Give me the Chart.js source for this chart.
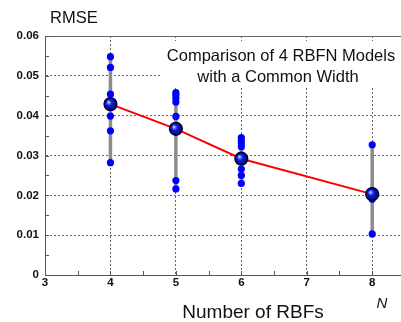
<!DOCTYPE html>
<html>
<head>
<meta charset="utf-8">
<script src="https://cdn.jsdelivr.net/npm/chart.js@4"></script>
<style>
  html, body { margin: 0; padding: 0; background: #fff; }
  #wrap { width: 401px; height: 322px; }
</style>
</head>
<body>
<div id="wrap"><canvas id="chart" width="401" height="322"></canvas></div>
<script>
// number of RBFs and RMSE of each run
const nValues = [4, 5, 6, 8];
const rmse4 = [0.0548, 0.0521, 0.0454, 0.0399, 0.0362, 0.0282];
const rmse5 = [0.0458, 0.0452, 0.0444, 0.0434, 0.0398, 0.0237, 0.0216];
const rmse6 = [0.0345, 0.0338, 0.0330, 0.0322, 0.0266, 0.0250, 0.0230];
const rmse8 = [0.0327, 0.0211, 0.0206, 0.0201, 0.0196, 0.0190, 0.0103];
const meanRmse = [0.0429, 0.0367, 0.0292, 0.0203];
const xTickLabels = ['3', '4', '5', '6', '7', '8'];

const runs = [rmse4, rmse5, rmse6, rmse8];

const runPoints = [];
const rangeLines = [];
runs.forEach((list, i) => {
    list.forEach(v => runPoints.push({x: nValues[i], y: v}));
    rangeLines.push({x: nValues[i], y: Math.min(...list)});
    rangeLines.push({x: nValues[i], y: Math.max(...list)});
    rangeLines.push({x: nValues[i], y: null});
});
const meanPoints = nValues.map((n, i) => ({x: n, y: meanRmse[i]}));

function isMultiple(v, step) {
    return Math.abs(v / step - Math.round(v / step)) < 1e-6;
}

const sphere = ctx => {
    const c = ctx.chart;
    if (!c.scales || !c.scales.x || !ctx.raw) return '#0000ff';
    const px = c.scales.x.getPixelForValue(ctx.raw.x);
    const py = c.scales.y.getPixelForValue(ctx.raw.y);
    if (!isFinite(px) || !isFinite(py)) return '#0000ff';
    const g = c.ctx.createRadialGradient(px - 2, py - 2, 0.5, px, py, 7);
    g.addColorStop(0, '#b8c4ff');
    g.addColorStop(0.35, '#1020e0');
    g.addColorStop(1, '#000050');
    return g;
};

const decorations = {
    id: 'decorations',
    beforeDatasetsDraw(chart) {
        const {ctx, chartArea: a, scales: {x, y}} = chart;
        ctx.save();
        // top frame line
        ctx.strokeStyle = '#666';
        ctx.lineWidth = 1;
        ctx.beginPath();
        ctx.moveTo(a.left, a.top + 0.5);
        ctx.lineTo(a.right, a.top + 0.5);
        ctx.stroke();
        // inner tick marks
        ctx.strokeStyle = '#555';
        ctx.beginPath();
        x.ticks.forEach(t => {
            if (t.value <= x.min) return;
            const px = Math.round(x.getPixelForValue(t.value)) + 0.5;
            ctx.moveTo(px, a.bottom);
            ctx.lineTo(px, a.bottom - 4);
        });
        y.ticks.forEach(t => {
            if (t.value <= y.min) return;
            const py = Math.round(y.getPixelForValue(t.value)) + 0.5;
            ctx.moveTo(a.left, py);
            ctx.lineTo(a.left + 4, py);
        });
        ctx.stroke();
        // title box
        ctx.fillStyle = '#fff';
        ctx.fillRect(160, 41, a.right - 160, 47);
        ctx.fillStyle = '#111';
        ctx.font = '16.5px "Liberation Sans", Arial, sans-serif';
        ctx.textAlign = 'center';
        ctx.textBaseline = 'alphabetic';
        ctx.fillText('Comparison of 4 RBFN Models', 281, 61);
        ctx.fillText('with a Common Width', 278, 82);
        ctx.restore();
    },
    afterDraw(chart) {
        const {ctx} = chart;
        ctx.save();
        ctx.fillStyle = '#111';
        ctx.textBaseline = 'alphabetic';
        ctx.textAlign = 'left';
        ctx.font = '16.5px "Liberation Sans", Arial, sans-serif';
        ctx.fillText('RMSE', 50, 23);
        ctx.textAlign = 'center';
        ctx.font = '19px "Liberation Sans", Arial, sans-serif';
        ctx.fillText('Number of RBFs', 253, 318);
        ctx.font = 'italic 15px "Liberation Sans", Arial, sans-serif';
        ctx.fillText('N', 382, 308);
        ctx.restore();
    }
};

const config = {
    type: 'scatter',
    data: {
        datasets: [
            {
                label: 'mean',
                data: meanPoints,
                order: 0,
                pointRadius: 6.5,
                pointHoverRadius: 6.5,
                pointBackgroundColor: sphere,
                pointBorderColor: '#000030',
                pointBorderWidth: 1.2,
                showLine: false,
            },
            {
                label: 'runs',
                data: runPoints,
                order: 1,
                pointRadius: 3.6,
                pointBackgroundColor: '#0000ff',
                pointBorderColor: '#0000ff',
                pointBorderWidth: 0,
                showLine: false,
            },
            {
                label: 'trend',
                data: meanPoints,
                order: 2,
                showLine: true,
                borderColor: '#ff0000',
                borderWidth: 2,
                pointRadius: 0,
            },
            {
                label: 'range',
                data: rangeLines,
                order: 3,
                showLine: true,
                spanGaps: false,
                borderColor: '#8c8c8c',
                borderWidth: 3.5,
                borderCapStyle: 'butt',
                pointRadius: 0,
            },
        ],
    },
    options: {
        responsive: false,
        animation: false,
        events: [],
        layout: {
            autoPadding: false,
            padding: {top: 36, right: 0, left: 0, bottom: 0},
        },
        plugins: {
            legend: {display: false},
            tooltip: {enabled: false},
        },
        scales: {
            x: {
                type: 'linear',
                bounds: 'data',
                min: 3,
                max: 8.44,
                afterFit: scale => {
                    scale.height = 47;
                    scale.paddingLeft = 0;
                    scale.paddingRight = 0;
                },
                ticks: {
                    stepSize: 0.5,
                    includeBounds: false,
                    maxRotation: 0,
                    autoSkip: false,
                    padding: 1,
                    color: '#111',
                    font: {family: '"Liberation Sans", Arial, sans-serif', size: 11.5, weight: 'bold'},
                    callback: v => isMultiple(v, 1) && xTickLabels.includes(String(v)) ? String(v) : '',
                },
                grid: {
                    drawTicks: false,
                    lineWidth: 1,
                    color: c => (c.tick && isMultiple(c.tick.value, 1) && c.tick.value > 3) ? '#666' : 'rgba(0,0,0,0)',
                },
                border: {display: true, color: '#555', width: 1, dash: [2, 2]},
            },
            y: {
                min: 0,
                max: 0.06,
                afterFit: scale => {
                    scale.width = 45;
                    scale.paddingTop = 0;
                    scale.paddingBottom = 0;
                },
                ticks: {
                    stepSize: 0.005,
                    autoSkip: false,
                    padding: 6,
                    color: '#111',
                    font: {family: '"Liberation Sans", Arial, sans-serif', size: 11.5, weight: 'bold'},
                    callback: v => {
                        if (!isMultiple(v, 0.01)) return '';
                        return Math.abs(v) < 1e-9 ? '0' : v.toFixed(2);
                    },
                },
                grid: {
                    drawTicks: false,
                    lineWidth: 1,
                    color: c => (c.tick && isMultiple(c.tick.value, 0.01) && c.tick.value > 0.0001 && c.tick.value < 0.0599) ? '#666' : 'rgba(0,0,0,0)',
                },
                border: {display: true, color: '#555', width: 1, dash: [2, 2]},
            },
        },
    },
    plugins: [decorations],
};

const chart = new Chart(document.getElementById('chart'), config);
</script>
</body>
</html>
